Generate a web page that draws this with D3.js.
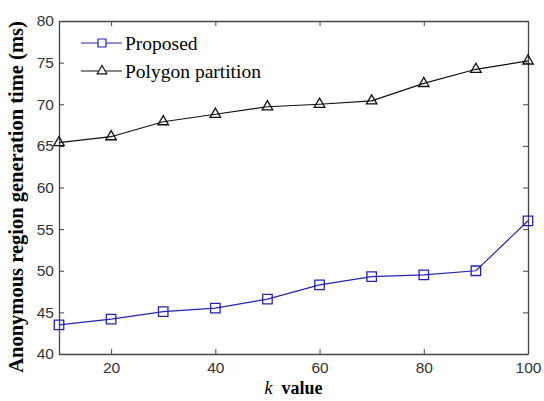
<!DOCTYPE html>
<html>
<head>
<meta charset="utf-8">
<script src="https://cdn.jsdelivr.net/npm/d3@7"></script>
<style>
  body { margin: 0; background: #fff; }
  svg { display: block; }
</style>
</head>
<body>
<div id="chart"></div>
<script>
// data
const kValues = [10, 20, 30, 40, 50, 60, 70, 80, 90, 100];
const proposed = [43.5, 44.2, 45.1, 45.5, 46.6, 48.3, 49.3, 49.5, 50.0, 56.0];
const polygon = [65.4, 66.1, 67.9, 68.8, 69.7, 70.0, 70.4, 72.5, 74.2, 75.2];
const xTicks = [20, 40, 60, 80, 100];
const yTicks = [40, 45, 50, 55, 60, 65, 70, 75, 80];

const width = 544, height = 401;
const margin = {left: 59, right: 16, top: 21, bottom: 47};

const svg = d3.select('#chart').append('svg')
    .attr('width', width)
    .attr('height', height);

const x = d3.scaleLinear().domain([10, 100]).range([margin.left, width - margin.right]);
const y = d3.scaleLinear().domain([40, 80]).range([height - margin.bottom, margin.top]);

const axisColor = '#444';
const tickFont = '"Liberation Sans", Arial, sans-serif';
const serif = '"Liberation Serif", "Times New Roman", serif';

// axes, ticks point inward, box drawn with mirrored ticks
const xBottom = svg.append('g')
    .attr('transform', 'translate(0,' + y(40) + ')')
    .call(d3.axisBottom(x).tickValues(xTicks).tickSizeInner(-5).tickSizeOuter(0).tickPadding(9));
const xTop = svg.append('g')
    .attr('transform', 'translate(0,' + y(80) + ')')
    .call(d3.axisTop(x).tickValues(xTicks).tickSizeInner(-5).tickSizeOuter(0).tickFormat(''));
const yLeft = svg.append('g')
    .attr('transform', 'translate(' + x(10) + ',0)')
    .call(d3.axisLeft(y).tickValues(yTicks).tickSizeInner(-5).tickSizeOuter(0).tickPadding(5));
const yRight = svg.append('g')
    .attr('transform', 'translate(' + x(100) + ',0)')
    .call(d3.axisRight(y).tickValues(yTicks).tickSizeInner(-5).tickSizeOuter(0).tickFormat(''));

[xBottom, xTop, yLeft, yRight].forEach(function (g) {
    g.select('.domain').attr('stroke', axisColor).attr('stroke-width', 1.3);
    g.selectAll('.tick line').attr('stroke', axisColor);
    g.selectAll('.tick text')
        .attr('fill', '#333')
        .style('font-family', tickFont)
        .style('font-size', '15.5px');
});
xBottom.selectAll('.tick text').attr('dy', '0.62em');

// series
const line = d3.line()
    .x(function (d) { return x(d[0]); })
    .y(function (d) { return y(d[1]); });

function markerSize(m) { return m === d3.symbolSquare ? 90 : 48; }

function drawSeries(values, color, marker) {
    const pts = kValues.map(function (k, i) { return [k, values[i]]; });
    svg.append('path')
        .datum(pts)
        .attr('d', line)
        .attr('fill', 'none')
        .attr('stroke', color)
        .attr('stroke-width', 1.2);
    svg.selectAll(null)
        .data(pts)
        .enter()
        .append('path')
        .attr('d', d3.symbol().type(marker).size(markerSize(marker)))
        .attr('transform', function (d) { return 'translate(' + x(d[0]) + ',' + y(d[1]) + ')'; })
        .attr('fill', 'none')
        .attr('stroke', color)
        .attr('stroke-width', 1.3);
}

const blue = '#2424b0';
drawSeries(proposed, blue, d3.symbolSquare);
drawSeries(polygon, '#111', d3.symbolTriangle);

// legend
const legend = [
    {name: 'Proposed', color: blue, marker: d3.symbolSquare},
    {name: 'Polygon partition', color: '#111', marker: d3.symbolTriangle}
];
const lg = svg.append('g').selectAll('g')
    .data(legend)
    .enter()
    .append('g')
    .attr('transform', function (d, i) { return 'translate(81,' + (43 + i * 28) + ')'; });
lg.append('line')
    .attr('x1', 0).attr('x2', 41)
    .attr('stroke', function (d) { return d.color; })
    .attr('stroke-width', 1.2);
lg.append('path')
    .attr('d', function (d) { return d3.symbol().type(d.marker).size(d.marker === d3.symbolSquare ? 64 : 40)(); })
    .attr('transform', 'translate(21,0)')
    .attr('fill', 'white')
    .attr('stroke', function (d) { return d.color; })
    .attr('stroke-width', 1.2);
lg.append('text')
    .attr('x', 44)
    .attr('dy', '0.35em')
    .text(function (d) { return d.name; })
    .style('font-family', serif)
    .style('font-size', '19.5px')
    .attr('fill', '#000');

// axis titles
const xLabel = svg.append('text')
    .attr('x', x(55))
    .attr('y', 394)
    .attr('text-anchor', 'middle')
    .style('font-family', serif)
    .style('font-size', '18px');
xLabel.append('tspan').text('k').style('font-style', 'italic');
xLabel.append('tspan').text('\u00a0 value').style('font-weight', 'bold');

svg.append('text')
    .attr('transform', 'translate(23,197) rotate(-90)')
    .attr('text-anchor', 'middle')
    .style('font-family', serif)
    .style('font-weight', 'bold')
    .style('font-size', '20.5px')
    .text('Anonymous region generation time (ms)');
</script>
</body>
</html>
